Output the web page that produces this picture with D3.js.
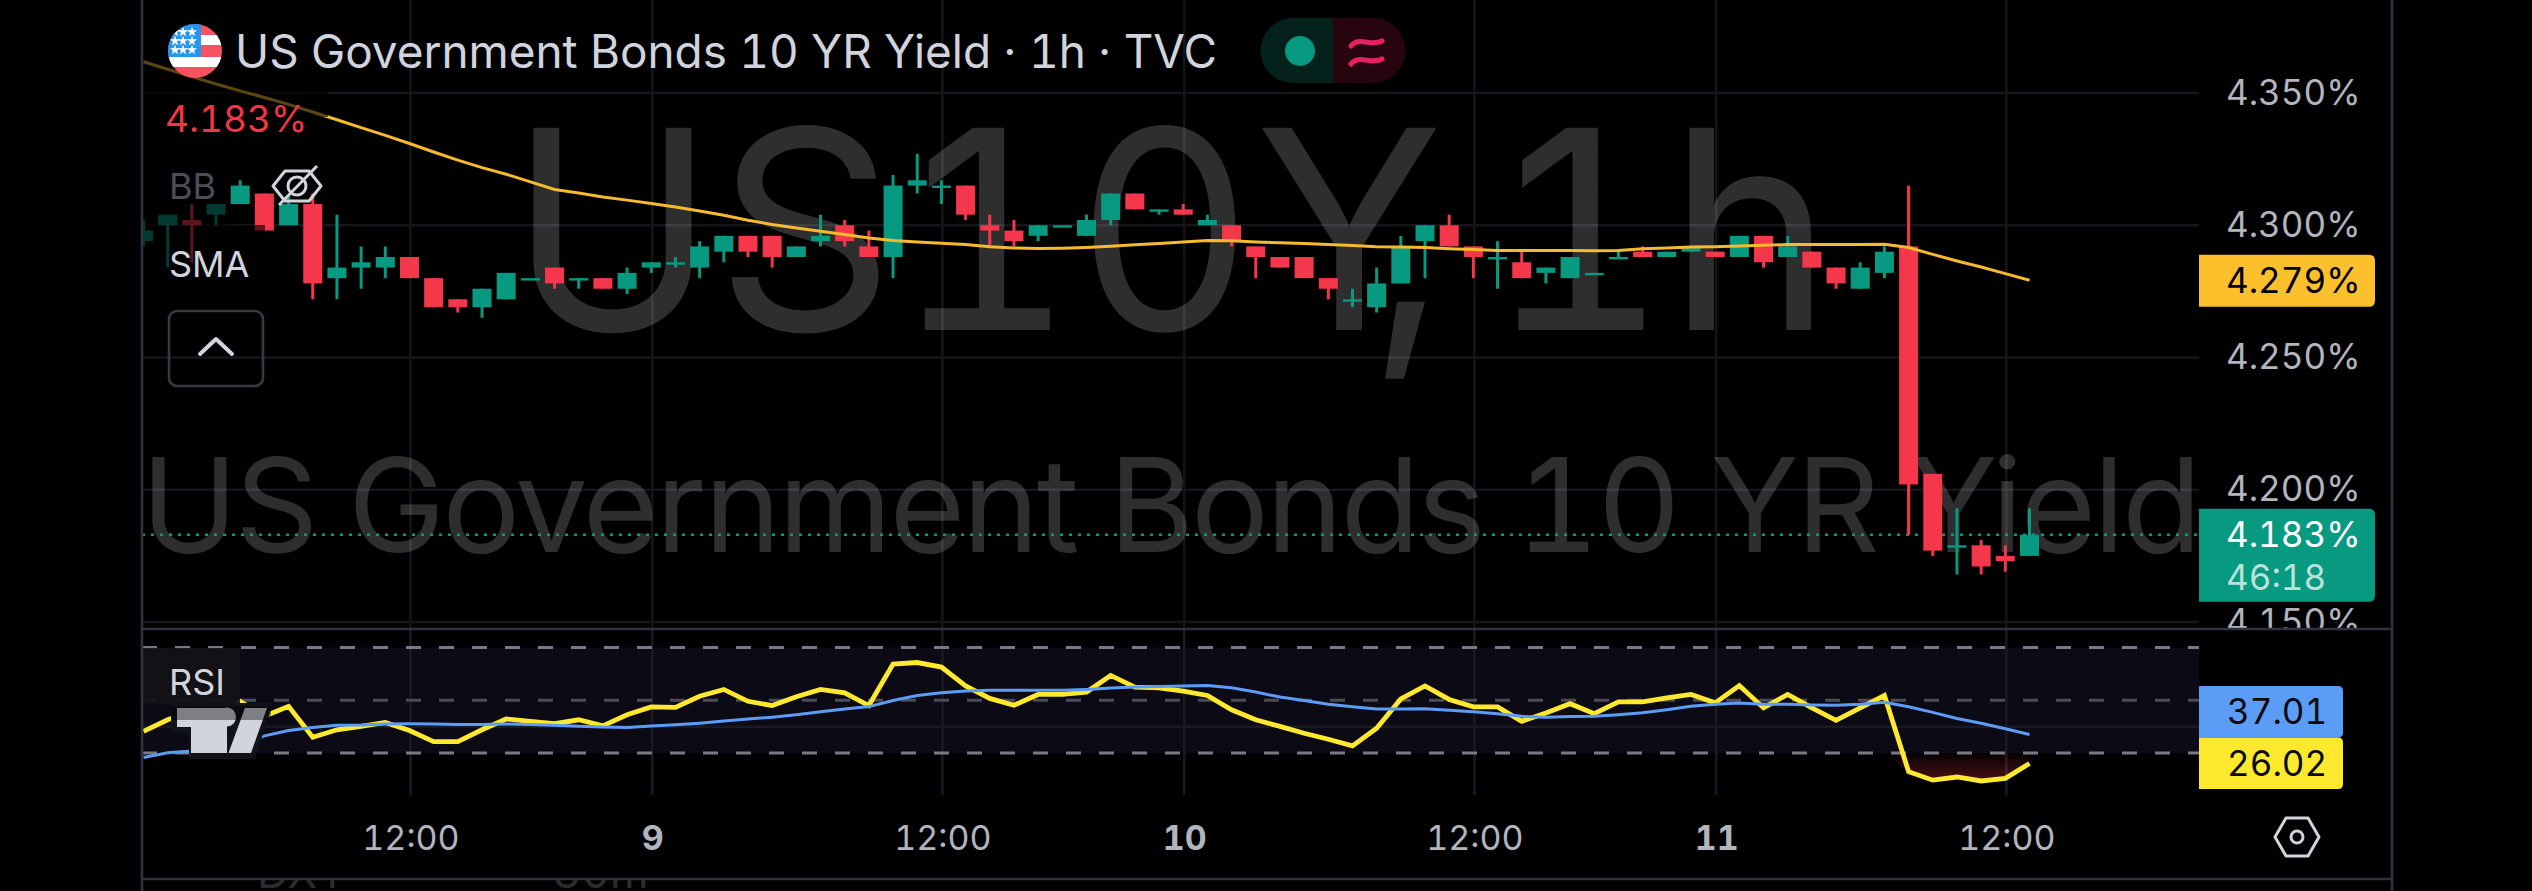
<!DOCTYPE html>
<html>
<head>
<meta charset="utf-8">
<style>
  html, body { margin: 0; background: #000; }
  svg { display: block; font-family: Inter, Roboto, sans-serif; font-variant-numeric: tabular-nums; }
</style>
</head>
<body>
<svg id="chart" width="2532" height="891"></svg>
<script src="https://cdn.jsdelivr.net/npm/d3@7"></script>
<script>
// hourly candles (index = bar number from the left edge)
const opens = [4.294,4.300,4.302,4.304,4.308,4.312,4.300,4.308,4.280,4.284,4.284,4.288,4.280,4.272,4.269,4.272,4.280,4.284,4.280,4.280,
  4.276,4.284,4.286,4.284,4.290,4.296,4.296,4.288,4.294,4.300,4.292,4.288,4.315,4.315,4.315,4.300,4.298,4.296,4.300,4.296,
  4.302,4.312,4.306,4.306,4.300,4.300,4.292,4.288,4.288,4.280,4.272,4.269,4.278,4.294,4.300,4.292,4.288,4.286,4.282,4.280,
  4.282,4.288,4.290,4.288,4.290,4.290,4.288,4.296,4.288,4.290,4.284,4.276,4.282,4.292,4.206,4.179,4.179,4.175,4.175];
const highs = [4.302,4.304,4.308,4.308,4.317,4.312,4.311,4.312,4.304,4.292,4.292,4.288,4.280,4.272,4.276,4.282,4.280,4.284,4.280,4.280,
  4.284,4.286,4.288,4.294,4.296,4.296,4.296,4.292,4.304,4.302,4.298,4.319,4.327,4.317,4.315,4.304,4.302,4.300,4.300,4.304,
  4.312,4.312,4.306,4.308,4.304,4.300,4.292,4.288,4.288,4.280,4.276,4.284,4.296,4.300,4.304,4.292,4.294,4.290,4.284,4.288,
  4.282,4.290,4.292,4.290,4.292,4.290,4.296,4.296,4.296,4.290,4.284,4.286,4.292,4.315,4.206,4.193,4.181,4.179,4.193];
const lows = [4.292,4.284,4.286,4.300,4.308,4.298,4.300,4.272,4.272,4.276,4.280,4.280,4.269,4.267,4.265,4.272,4.280,4.276,4.276,4.276,
  4.274,4.282,4.284,4.280,4.286,4.288,4.284,4.288,4.292,4.292,4.288,4.280,4.312,4.308,4.302,4.292,4.292,4.294,4.300,4.296,
  4.300,4.306,4.304,4.304,4.300,4.292,4.280,4.284,4.280,4.272,4.269,4.267,4.278,4.280,4.292,4.280,4.276,4.280,4.278,4.280,
  4.282,4.288,4.288,4.288,4.290,4.288,4.288,4.284,4.288,4.284,4.276,4.276,4.280,4.183,4.175,4.168,4.168,4.169,4.175];
const closes = [4.298,4.304,4.300,4.308,4.315,4.298,4.308,4.278,4.284,4.286,4.288,4.280,4.269,4.269,4.276,4.282,4.280,4.278,4.280,4.276,
  4.282,4.286,4.286,4.292,4.296,4.290,4.288,4.292,4.296,4.294,4.288,4.315,4.317,4.315,4.304,4.298,4.294,4.300,4.300,4.302,
  4.312,4.306,4.306,4.304,4.302,4.294,4.288,4.284,4.280,4.276,4.272,4.278,4.292,4.300,4.292,4.288,4.288,4.280,4.284,4.288,
  4.282,4.288,4.288,4.290,4.292,4.288,4.296,4.286,4.292,4.284,4.278,4.284,4.290,4.202,4.177,4.179,4.171,4.173,4.183];

const smaValues = [4.3618,4.3590,4.3562,4.3534,4.3508,4.3483,4.3457,4.3428,4.3399,4.3369,4.3340,4.3309,4.3277,4.3246,4.3218,4.3193,4.3164,4.3135,4.3122,4.3107,
  4.3095,4.3082,4.3069,4.3054,4.3038,4.3019,4.3003,4.2990,4.2977,4.2965,4.2952,4.2942,4.2937,4.2932,4.2927,4.2919,4.2914,4.2912,4.2913,4.2916,
  4.2921,4.2926,4.2931,4.2937,4.2942,4.2941,4.2937,4.2934,4.2931,4.2927,4.2923,4.2919,4.2918,4.2916,4.2911,4.2908,4.2905,4.2905,4.2905,4.2905,
  4.2904,4.2905,4.2911,4.2914,4.2918,4.2919,4.2922,4.2924,4.2927,4.2927,4.2927,4.2927,4.2928,4.2916,4.2890,4.2865,4.2842,4.2817,4.2792];

const rsiValues = [38.2,42.6,45.8,42.6,49.6,43.9,47.7,36.0,38.8,40.1,41.6,38.5,34.3,34.3,38.8,42.9,42.0,41.1,42.6,40.3,
  44.5,47.5,47.3,51.5,54.1,49.6,48.0,51.3,54.1,52.8,48.0,63.7,64.3,62.6,55.4,50.7,48.1,52.2,52.2,53.1,
  59.4,55.0,54.7,53.5,51.8,46.4,42.6,40.1,37.5,35.2,32.7,39.4,50.5,55.4,50.3,47.5,47.5,42.0,45.2,48.7,
  44.9,49.4,49.4,50.9,52.2,49.0,55.6,47.1,52.2,47.1,42.4,47.1,51.8,22.9,19.7,20.9,19.4,20.4,26.02];
const rsiMaValues = [28.3,30.1,30.8,31.8,32.7,36.5,38.5,39.7,40.5,40.6,41.0,41.1,41.0,40.8,40.8,41.0,40.8,40.5,40.1,39.9,
  39.7,40.2,40.7,41.3,42.1,42.9,43.6,44.5,45.6,46.7,47.6,49.9,51.8,52.8,53.5,53.8,53.8,53.8,53.8,54.1,
  54.6,55.0,55.2,55.4,55.6,54.7,53.1,51.2,49.9,48.5,47.5,46.7,46.7,46.8,46.2,45.6,44.9,43.9,43.6,43.8,
  43.9,44.5,45.3,46.4,47.7,48.5,49.0,48.5,48.5,48.2,48.1,48.5,49.2,47.5,45.4,43.1,41.3,39.2,37.01];

const priceTicks = [4.35, 4.30, 4.25, 4.20, 4.15];
const rsiLevels = [70, 50, 30];
const timeTicks = [11, 21, 33, 43, 55, 65, 77];
const timeLabels = ["12:00", "9", "12:00", "10", "12:00", "11", "12:00"];

const lastPrice = 4.183, lastSma = 4.279, lastRsi = 26.02, lastRsiMa = 37.01;

const green = "#089981", red = "#f5374b", gold = "#fcc02d", axisText = "#b2b5be", gridColor = "#15151a";

const paneLeft = 142, paneRight = 2199, frameRight = 2392;
const mainTop = 0, mainBottom = 629, rsiBottom = 795, frameBottom = 879;

const svg = d3.select("#chart");

const x = d3.scaleLinear().domain([0, 78]).range([143.5, 2029.5]);
const y = d3.scaleLinear().domain([4.15, 4.35]).range([622, 93]);
const yRsi = d3.scaleLinear().domain([30, 70]).range([753, 647.5]);

const defs = svg.append("defs");
defs.append("clipPath").attr("id", "mainClip").append("rect")
  .attr("x", paneLeft).attr("y", mainTop).attr("width", paneRight - paneLeft).attr("height", mainBottom - mainTop);
defs.append("clipPath").attr("id", "axisClip").append("rect")
  .attr("x", 0).attr("y", mainTop).attr("width", frameRight - paneRight).attr("height", mainBottom - mainTop);
defs.append("clipPath").attr("id", "rsiClip").append("rect")
  .attr("x", paneLeft).attr("y", mainBottom).attr("width", paneRight - paneLeft).attr("height", rsiBottom - mainBottom);
defs.append("clipPath").attr("id", "oversoldClip").append("rect")
  .attr("x", paneLeft).attr("y", yRsi(30)).attr("width", paneRight - paneLeft).attr("height", rsiBottom - yRsi(30));
defs.append("clipPath").attr("id", "nextPaneClip").append("rect")
  .attr("x", paneLeft).attr("y", frameBottom + 1).attr("width", frameRight - paneLeft).attr("height", 12);
defs.append("clipPath").attr("id", "flagClip").append("circle").attr("cx", 195).attr("cy", 51).attr("r", 27);
const fillGrad = defs.append("linearGradient").attr("id", "oversoldFill")
  .attr("gradientUnits", "userSpaceOnUse").attr("x1", 0).attr("x2", 0).attr("y1", yRsi(30)).attr("y2", yRsi(19));
fillGrad.append("stop").attr("offset", 0).attr("stop-color", red).attr("stop-opacity", 0.02);
fillGrad.append("stop").attr("offset", 1).attr("stop-color", red).attr("stop-opacity", 0.32);

// grid
const grid = svg.append("g");
grid.selectAll("line.h").data(priceTicks).join("line")
  .attr("x1", paneLeft).attr("x2", paneRight).attr("y1", d => y(d)).attr("y2", d => y(d))
  .attr("stroke", gridColor).attr("stroke-width", 2.5);
grid.selectAll("line.v").data(timeTicks).join("line").attr("class", "v")
  .attr("x1", d => x(d) + 1).attr("x2", d => x(d) + 1).attr("y1", mainTop).attr("y2", mainBottom)
  .attr("stroke", gridColor).attr("stroke-width", 2.5);

// watermarks
const marks = svg.append("g").attr("clip-path", "url(#mainClip)").attr("fill", "#fff").attr("fill-opacity", 0.18);
const bigMark = marks.append("text").attr("x", 509).attr("y", 330).attr("font-size", 278);
bigMark.append("tspan").text("US10Y");
bigMark.append("tspan").attr("dx", -73).text(",");
bigMark.append("tspan").attr("dx", -32).text(" 1h");
marks.append("text").attr("x", 141).attr("y", 552).attr("font-size", 130).attr("letter-spacing", -2.7).text("US Government Bonds 10 YR Yield");

// last price dotted line
svg.append("line")
  .attr("x1", paneLeft).attr("x2", paneRight).attr("y1", y(lastPrice)).attr("y2", y(lastPrice))
  .attr("stroke", green).attr("stroke-width", 2.5).attr("stroke-dasharray", "3 6");

// candles
const candles = svg.append("g").attr("clip-path", "url(#mainClip)")
  .selectAll("g").data(closes).join("g")
  .attr("fill", (d, i) => d >= opens[i] ? green : red);
candles.append("rect")
  .attr("x", (d, i) => x(i) - 1.5).attr("width", 3)
  .attr("y", (d, i) => y(highs[i])).attr("height", (d, i) => y(lows[i]) - y(highs[i]));
candles.append("rect")
  .attr("x", (d, i) => x(i) - 9.5).attr("width", 19)
  .attr("y", (d, i) => y(Math.max(d, opens[i])))
  .attr("height", (d, i) => Math.max(y(Math.min(d, opens[i])) - y(Math.max(d, opens[i])), 2.4));

// SMA line
svg.append("path").datum(smaValues)
  .attr("d", d3.line().x((d, i) => x(i)).y(d => y(d)))
  .attr("fill", "none").attr("stroke", "#f7b92e").attr("stroke-width", 3)
  .attr("clip-path", "url(#mainClip)");

// legend backdrop dims whatever runs behind it
const dim = svg.append("g").attr("fill", "#000").attr("fill-opacity", 0.62);
dim.append("rect").attr("x", paneLeft).attr("y", 0).attr("width", 186).attr("height", 117);
dim.append("rect").attr("x", paneLeft).attr("y", 117).attr("width", 84).attr("height", 108);
dim.append("rect").attr("x", paneLeft).attr("y", 225).attr("width", 123).attr("height", 62);

// flag
const flag = svg.append("g").attr("clip-path", "url(#flagClip)");
flag.append("rect").attr("x", 168).attr("y", 24).attr("width", 54).attr("height", 54).attr("fill", "#f7525f");
flag.selectAll("rect.w").data([35, 57]).join("rect").attr("class", "w")
  .attr("x", 168).attr("y", d => d).attr("width", 54).attr("height", 10).attr("fill", "#fff");
flag.append("rect").attr("x", 168).attr("y", 24).attr("width", 33).attr("height", 33).attr("fill", "#2196f3");
const starPath = d3.symbol().type(d3.symbolStar).size(34)();
[32, 41, 50].forEach(sy => [175, 183, 192].forEach(sx => {
  flag.append("path").attr("d", starPath).attr("fill", "#fff").attr("transform", `translate(${sx},${sy})`);
}));

// title, last value, study labels
svg.append("text").attr("x", 235).attr("y", 68).attr("font-size", 45.9).attr("fill", "#d1d4dc")
  .text("US Government Bonds 10 YR Yield · 1h · TVC");
svg.append("text").attr("x", 165).attr("y", 132).attr("font-size", 37).attr("fill", "#f23645").text("4.183%");
svg.append("text").attr("x", 169).attr("y", 199).attr("font-size", 36).attr("fill", "#4b4e58").text("BB");
svg.append("text").attr("x", 169).attr("y", 277).attr("font-size", 36).attr("fill", "#d1d4dc").text("SMA");

// eye with strike
const eye = svg.append("g").attr("transform", "translate(297,186)")
  .attr("fill", "none").attr("stroke", "#d1d4dc").attr("stroke-width", 3);
eye.append("path").attr("d", "M-24,0 L-12,-15 L12,-15 L24,0 L12,15 L-12,15 Z").attr("stroke-linejoin", "round");
eye.append("circle").attr("r", 9);
eye.append("path").attr("d", "M20,-20 L-18,19");

// collapse button
svg.append("rect").attr("x", 169).attr("y", 311).attr("width", 94).attr("height", 75).attr("rx", 8)
  .attr("fill", "none").attr("stroke", "#363a45").attr("stroke-width", 2.6);
svg.append("path").attr("d", "M200,354 L216,339 L232,354")
  .attr("fill", "none").attr("stroke", "#d1d4dc").attr("stroke-width", 4).attr("stroke-linecap", "round").attr("stroke-linejoin", "round");

// market status pill
const pill = svg.append("g");
pill.append("path").attr("d", "M1333,18 L1293,18 A32.5,32.5 0 0 0 1293,83 L1333,83 Z").attr("fill", "#04211b");
pill.append("path").attr("d", "M1333,18 L1373,18 A32.5,32.5 0 0 1 1373,83 L1333,83 Z").attr("fill", "#27050f");
pill.append("circle").attr("cx", 1300).attr("cy", 51).attr("r", 15).attr("fill", green);
pill.selectAll("path.wave").data([0, 18]).join("path").attr("class", "wave")
  .attr("d", d => `M1351,${46 + d} C1358,${36 + d} 1372,${47 + d} 1382,${41 + d}`)
  .attr("fill", "none").attr("stroke", "#e91e63").attr("stroke-width", 5).attr("stroke-linecap", "round");

// price axis
const priceAxis = svg.append("g")
  .attr("transform", `translate(${paneRight},0)`)
  .attr("clip-path", "url(#axisClip)")
  .call(d3.axisRight(y).tickValues(priceTicks).tickSize(0).tickPadding(27).tickFormat(d => d3.format(".3f")(d) + "%"));
priceAxis.select(".domain").remove();
priceAxis.selectAll("text").attr("fill", axisText).attr("font-size", 35).attr("font-family", "Inter, Roboto, sans-serif");

function priceTag(yTop, h, w, fill) {
  // square on the pane side, rounded on the other
  svg.append("path")
    .attr("d", `M${paneRight},${yTop} h${w - 6} q6,0 6,6 v${h - 12} q0,6 -6,6 h${-(w - 6)} Z`)
    .attr("fill", fill);
}
function tagText(tx, ty, txt, fill) {
  svg.append("text").attr("x", tx).attr("y", ty).attr("dy", "0.36em")
    .attr("font-size", 35).attr("fill", fill).text(txt);
}

priceTag(y(lastSma) - 26, 52, 176, gold);
tagText(2226, y(lastSma), d3.format(".3f")(lastSma) + "%", "#000");
priceTag(y(lastPrice) - 26, 93, 176, green);
tagText(2226, y(lastPrice), d3.format(".3f")(lastPrice) + "%", "#fff");
tagText(2226, 577, "46:18", "rgba(255,255,255,0.72)");

// RSI pane
svg.append("rect").attr("x", paneLeft).attr("y", yRsi(70)).attr("width", paneRight - paneLeft).attr("height", yRsi(30) - yRsi(70))
  .attr("fill", "#0c0a14");
const rsiGrid = svg.append("g");
rsiGrid.append("line").attr("x1", paneLeft).attr("x2", paneRight).attr("y1", yRsi(40)).attr("y2", yRsi(40))
  .attr("stroke", "#1b1a22").attr("stroke-width", 2.5);
rsiGrid.selectAll("line.v").data(timeTicks).join("line").attr("class", "v")
  .attr("x1", d => x(d) + 1).attr("x2", d => x(d) + 1).attr("y1", mainBottom).attr("y2", rsiBottom)
  .attr("stroke", "#1a1a20").attr("stroke-width", 2.5);
svg.append("g").selectAll("line").data(rsiLevels).join("line")
  .attr("x1", paneLeft).attr("x2", paneRight).attr("y1", d => yRsi(d)).attr("y2", d => yRsi(d))
  .attr("stroke", d => d === 50 ? "#4b4c55" : "#787b86").attr("stroke-width", 3).attr("stroke-dasharray", "15 18");

// oversold fill under 30
svg.append("path").datum(rsiValues)
  .attr("clip-path", "url(#oversoldClip)")
  .attr("d", d3.area().x((d, i) => x(i)).y0(yRsi(30)).y1(d => Math.max(yRsi(d), yRsi(30))))
  .attr("fill", "url(#oversoldFill)");

svg.append("path").datum(rsiValues)
  .attr("d", d3.line().x((d, i) => x(i)).y(d => yRsi(d)))
  .attr("fill", "none").attr("stroke", "#ffe92f").attr("stroke-width", 4.8).attr("clip-path", "url(#rsiClip)");
svg.append("path").datum(rsiMaValues)
  .attr("d", d3.line().x((d, i) => x(i)).y(d => yRsi(d)))
  .attr("fill", "none").attr("stroke", "#5b9cf6").attr("stroke-width", 3).attr("clip-path", "url(#rsiClip)");

// RSI legend and TV logo
svg.append("rect").attr("x", paneLeft).attr("y", 648).attr("width", 98).attr("height", 56).attr("fill", "#121216").attr("fill-opacity", 0.9);
svg.append("text").attr("x", 169).attr("y", 695).attr("font-size", 36).attr("fill", "#d1d4dc").text("RSI");
svg.append("path").attr("d", "M171,703 L273,703 L255,759 L189,759 L189,733 L171,733 Z").attr("fill", "#101319");
const logo = svg.append("g").attr("fill", "#d1d4dc");
logo.append("path").attr("d", "M177,708 H227 V753 H191 V727 H177 Z");
logo.append("ellipse").attr("cx", 227).attr("cy", 717).attr("rx", 9).attr("ry", 9.5);
logo.append("path").attr("d", "M245,708 H267 L251,753 H228.5 Z");
svg.append("rect").attr("x", 171).attr("y", 706).attr("width", 100).attr("height", 14).attr("fill", "#000").attr("fill-opacity", 0.4);

// RSI value tags
function rsiTag(yTop, h, fill, txt) {
  svg.append("path")
    .attr("d", `M${paneRight},${yTop} h139 q5,0 5,5 v${h - 10} q0,5 -5,5 h-139 Z`).attr("fill", fill);
  tagText(2227, yTop + h / 2, txt, "#0a0a0a");
}
rsiTag(686, 51.5, "#5b9cf6", d3.format(".2f")(lastRsiMa));
rsiTag(737.5, 51.5, "#ffe92f", d3.format(".2f")(lastRsi));

// time axis
const timeAxis = svg.append("g").attr("transform", "translate(1,838)")
  .call(d3.axisBottom(x).tickValues(timeTicks).tickSize(0).tickPadding(0).tickFormat((d, i) => timeLabels[i]));
timeAxis.select(".domain").remove();
timeAxis.selectAll("text").attr("y", 0).attr("dy", "0.36em")
  .attr("fill", axisText).attr("font-size", 34).attr("font-family", "Inter, Roboto, sans-serif")
  .attr("font-weight", (d, i) => timeLabels[i].includes(":") ? 400 : 700);

// settings hexagon
const hex = svg.append("g").attr("transform", "translate(2297,837)")
  .attr("fill", "none").attr("stroke", "#d1d4dc").attr("stroke-width", 3);
hex.append("path").attr("d", "M-22,0 L-11,-19 L11,-19 L22,0 L11,19 L-11,19 Z").attr("stroke-linejoin", "round");
hex.append("circle").attr("r", 6);

// next pane watermark peeking under the bottom border
const nextPane = svg.append("g").attr("clip-path", "url(#nextPaneClip)").attr("fill", "#2c2c2c").attr("font-size", 44);
nextPane.append("text").attr("x", 257).attr("y", 888).text("DXY");
nextPane.append("text").attr("x", 553).attr("y", 888).text("30m");

// frame
const frame = svg.append("g").attr("stroke", "#2f3340").attr("stroke-width", 2.6);
frame.append("line").attr("x1", paneLeft).attr("x2", paneLeft).attr("y1", 0).attr("y2", 891);
frame.append("line").attr("x1", frameRight).attr("x2", frameRight).attr("y1", 0).attr("y2", 891);
frame.append("line").attr("x1", paneLeft).attr("x2", frameRight).attr("y1", mainBottom).attr("y2", mainBottom);
frame.append("line").attr("x1", paneLeft).attr("x2", frameRight).attr("y1", frameBottom).attr("y2", frameBottom);
</script>
</body>
</html>
